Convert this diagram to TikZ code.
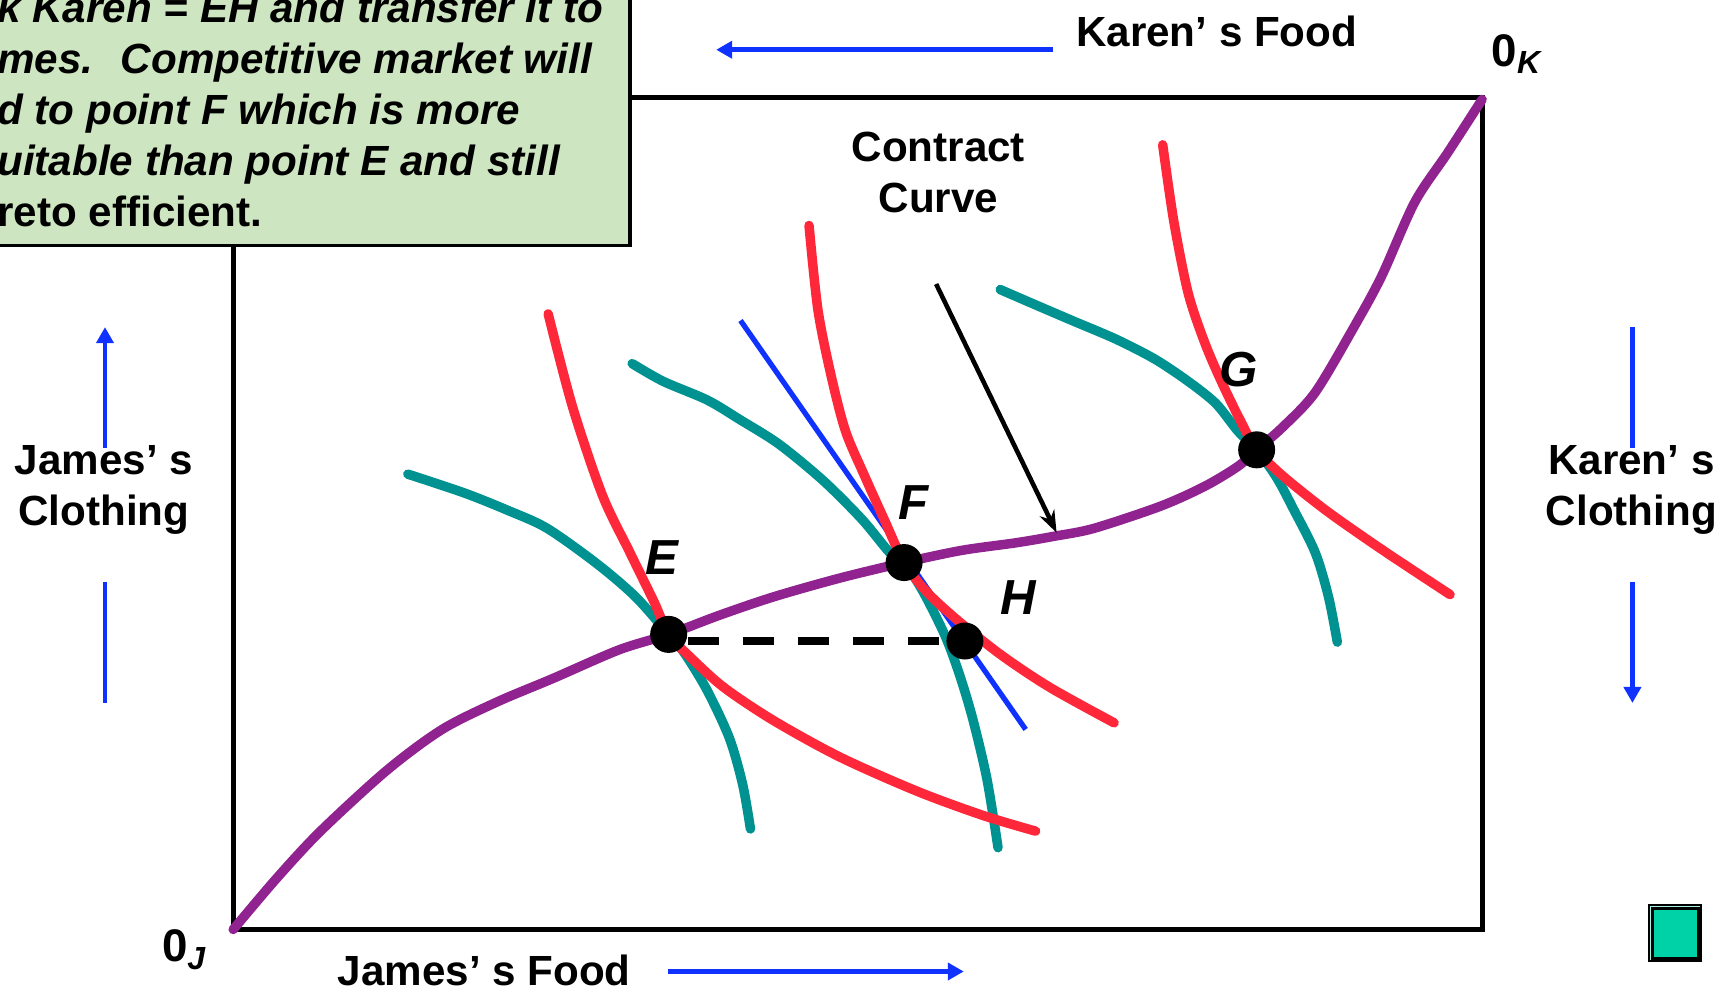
\documentclass[tikz,border=0pt]{standalone}
\usepackage{fontspec}
\setmainfont{Liberation Sans}
\usetikzlibrary{arrows.meta}
\definecolor{mypurple}{RGB}{145,35,145}
\definecolor{myred}{RGB}{255,40,58}
\definecolor{myteal}{RGB}{0,145,145}
\definecolor{myblue}{RGB}{15,50,255}
\definecolor{mygreen}{RGB}{205,229,192}
\definecolor{mysquare}{RGB}{0,210,168}
\definecolor{mysquarelt}{RGB}{170,240,230}
\definecolor{mysquaredk}{RGB}{30,110,105}

\begin{document}
\begin{tikzpicture}[x=1.1052cm, y=1.1052cm,
  lbl/.style={font=\fontsize{12}{14.5}\selectfont\bfseries, align=center, inner sep=0pt},
  ptlbl/.style={font=\fontsize{14}{16}\selectfont\bfseries\itshape, inner sep=0pt, anchor=base west},
  dot/.style={circle, fill=black, inner sep=0pt, minimum size=0.37cm},
  icurve/.style={line width=2.7pt, line cap=round, line join=round},
  bluearrow/.style={myblue, line width=1.4pt, -{Triangle[length=1.6mm,width=1.7mm]}},
  blueline/.style={myblue, line width=1.4pt}]
  \useasboundingbox (0,0) rectangle (15.68,8.98);

  \draw[line width=1.4pt] (2.11,0.57) rectangle (13.41,8.10);

  \fill[mygreen, draw=black, line width=1pt] (-0.2,6.76) rectangle (5.70,9.3);
  \node[font=\fontsize{12}{14.5}\selectfont\bfseries\itshape, align=left, inner sep=0pt, anchor=north west] (note) at (-0.03,9.06)
    {k Karen = EH and transfer it to\\
     mes.~ Competitive market will\\
     d to point F which is more\\
     uitable than point E and still\\
     {\upshape reto efficient.}};

  \node[lbl, anchor=base west] (kfood) at (9.73,8.56) {Karen’ s Food};
  \node[lbl, anchor=base west] (jfood) at (3.05,0.06) {James’ s Food};
  \node[lbl] (jcloth) at (0.94,4.55) {James’ s\\Clothing};
  \node[lbl] (kcloth) at (14.76,4.55) {Karen’ s\\Clothing};
  \node[lbl] (cc) at (8.49,7.42) {Contract\\Curve};
  \node[font=\fontsize{13}{15}\selectfont\bfseries, inner sep=0pt, anchor=base west] (ok) at (13.49,8.38) {0\textsubscript{\itshape K}};
  \node[font=\fontsize{13}{15}\selectfont\bfseries, inner sep=0pt, anchor=base west] (oj) at (1.46,0.28) {0\textsubscript{\itshape J}};

  \coordinate (kfa) at (9.53,8.53);
  \coordinate (kfb) at (6.48,8.53);
  \coordinate (jfa) at (6.04,0.19);
  \coordinate (jfb) at (8.72,0.19);
  \coordinate (jca) at (0.95,4.93);
  \coordinate (jcb) at (0.95,6.02);
  \coordinate (jcc) at (0.95,3.71);
  \coordinate (jcd) at (0.95,2.62);
  \coordinate (kca) at (14.77,6.02);
  \coordinate (kcb) at (14.77,4.93);
  \coordinate (kcc) at (14.77,3.71);
  \coordinate (kcd) at (14.77,2.62);
  \draw[bluearrow] (kfa) -- (kfb);
  \draw[bluearrow] (jfa) -- (jfb);
  \draw[bluearrow] (jca) -- (jcb);
  \draw[blueline] (jcc) -- (jcd);
  \draw[blueline] (kca) -- (kcb);
  \draw[bluearrow] (kcc) -- (kcd);

  \draw[icurve, myteal] plot[smooth] coordinates {(3.69,4.69) (4.20,4.52) (4.60,4.36) (4.95,4.20) (5.40,3.88) (5.75,3.58) (6.05,3.24) (6.20,3.06) (6.40,2.73) (6.60,2.30) (6.72,1.88) (6.79,1.48)};
  \draw[icurve, myteal] plot[smooth] coordinates {(5.72,5.69) (6.00,5.53) (6.40,5.36) (6.70,5.18) (7.05,4.96) (7.45,4.63) (7.80,4.28) (8.05,3.98) (8.18,3.89) (8.35,3.63) (8.55,3.23) (8.68,2.88) (8.80,2.48) (8.93,1.93) (9.03,1.31)};
  \draw[icurve, myteal] plot[smooth] coordinates {(9.05,6.36) (9.35,6.23) (9.70,6.08) (10.10,5.91) (10.45,5.73) (10.75,5.53) (11.00,5.33) (11.20,5.08) (11.37,4.91) (11.55,4.66) (11.70,4.38) (11.90,3.98) (12.02,3.58) (12.10,3.17)};

  \coordinate (tana) at (6.70,6.08);
  \coordinate (tanb) at (9.28,2.38);
  \draw[myblue, line width=1.5pt] (tana) -- (tanb);

  \draw[icurve, myred] plot[smooth] coordinates {(4.96,6.14) (5.18,5.30) (5.45,4.50) (5.70,3.98) (5.92,3.53) (6.05,3.24) (6.25,3.03) (6.55,2.76) (7.00,2.46) (7.60,2.13) (8.30,1.82) (8.90,1.60) (9.37,1.46)};
  \draw[icurve, myred] plot[smooth] coordinates {(7.32,6.94) (7.40,6.18) (7.52,5.58) (7.65,5.08) (7.82,4.68) (8.00,4.28) (8.18,3.89) (8.38,3.63) (8.65,3.38) (9.05,3.06) (9.50,2.76) (10.08,2.44)};
  \draw[icurve, myred] plot[smooth] coordinates {(10.52,7.67) (10.62,6.98) (10.75,6.33) (10.90,5.88) (11.05,5.53) (11.22,5.18) (11.37,4.91) (11.60,4.68) (12.00,4.36) (12.50,4.01) (13.12,3.60)};

  \draw[icurve, mypurple] plot[smooth] coordinates {(2.11,0.57) (2.50,1.03) (2.90,1.46) (3.50,2.01) (4.00,2.38) (4.50,2.63) (5.00,2.84) (5.60,3.10) (6.05,3.24) (6.50,3.41) (7.00,3.58) (7.60,3.75) (8.18,3.89) (8.70,4.00) (9.20,4.07) (9.55,4.13) (9.90,4.20) (10.50,4.40) (10.90,4.58) (11.20,4.76) (11.37,4.91) (11.60,5.11) (11.90,5.43) (12.25,6.02) (12.50,6.48) (12.80,7.15) (13.10,7.60) (13.41,8.08)};

  \coordinate (cca) at (8.47,6.41);
  \coordinate (ccb) at (9.56,4.16);
  \draw[line width=1.3pt, -{Stealth[length=2.2mm,width=1.6mm]}] (cca) -- (ccb);

  \node[dot] (E) at (6.05,3.24) {};
  \node[dot] (F) at (8.18,3.89) {};
  \node[dot] (G) at (11.37,4.91) {};
  \node[dot] (H) at (8.73,3.18) {};
  \draw[line width=2.4pt, dash pattern=on 3.1mm off 2.4mm] (E.east |- H) -- (H.west);

  \node[ptlbl] (Elbl) at (5.83,3.78) {E};
  \node[ptlbl] (Flbl) at (8.12,4.28) {F};
  \node[ptlbl] (Glbl) at (11.03,5.48) {G};
  \node[ptlbl] (Hlbl) at (9.05,3.42) {H};

  \fill[black] (14.91,0.28) rectangle (15.40,0.80);
  \fill[mysquarelt] (14.925,0.295) rectangle (15.385,0.785);
  \fill[mysquaredk] (14.94,0.295) rectangle (15.385,0.77);
  \draw[fill=mysquare, line width=0.8pt] (14.95,0.31) rectangle (15.37,0.76);
\end{tikzpicture}
\end{document}
